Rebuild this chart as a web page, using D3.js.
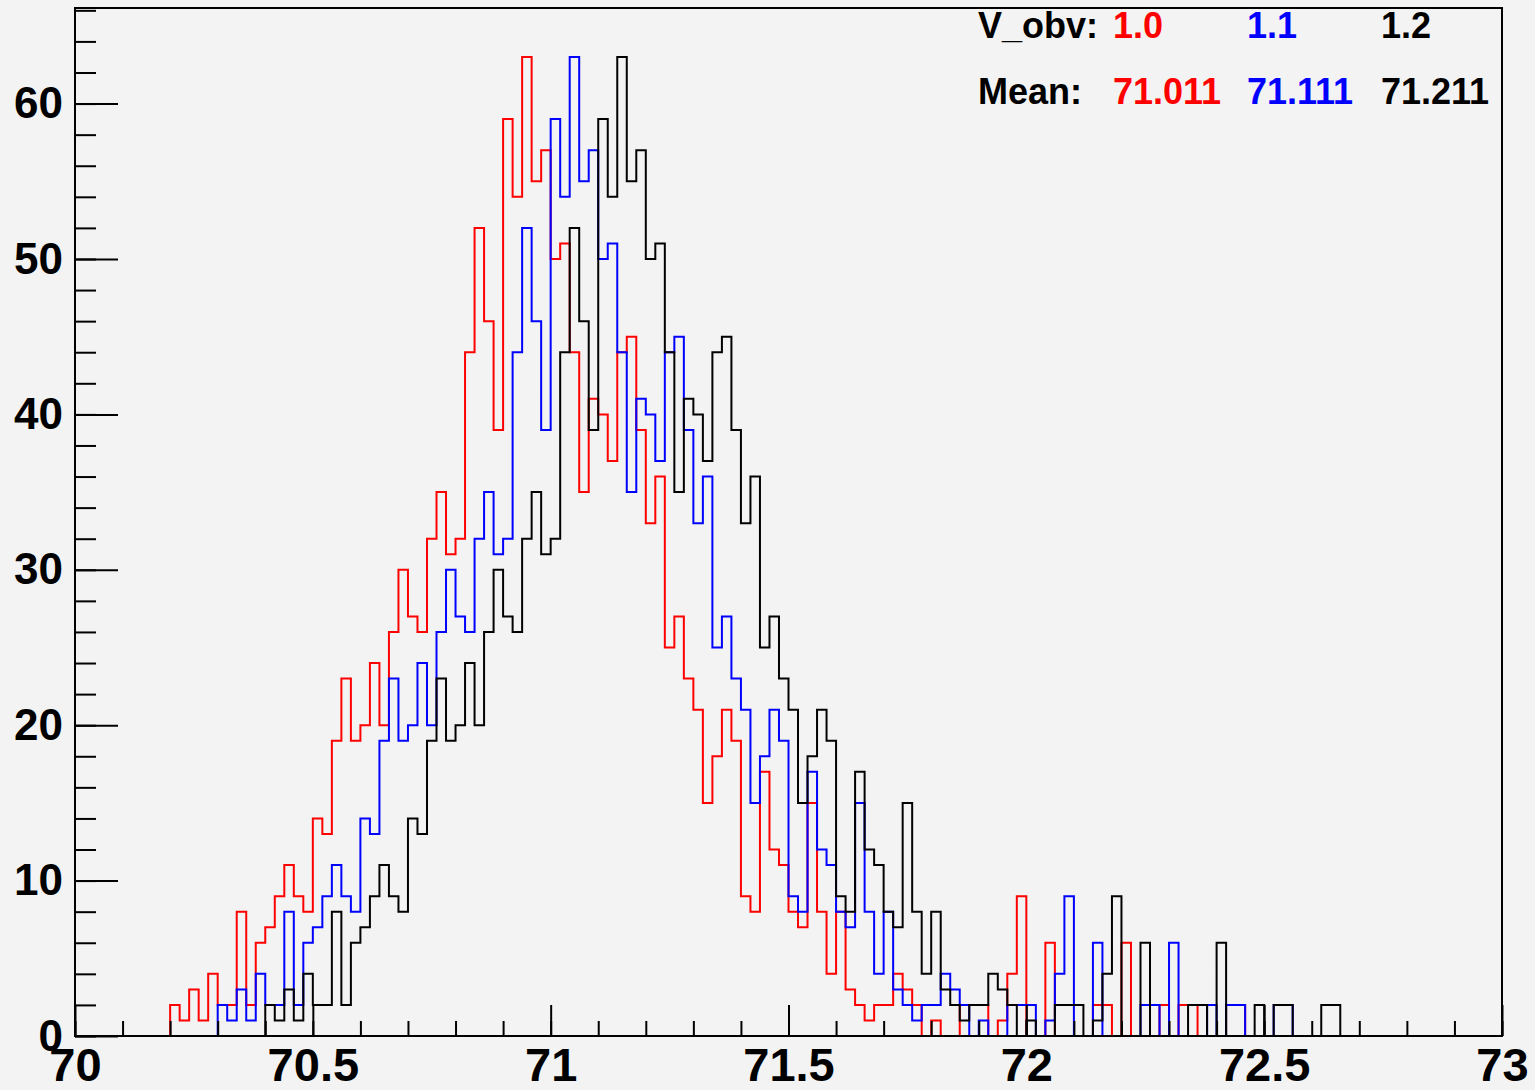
<!DOCTYPE html>
<html>
<head>
<meta charset="utf-8">
<script src="https://cdn.jsdelivr.net/npm/d3@7"></script>
<style>
  html, body { margin: 0; padding: 0; background: #f3f3f3; }
  svg { display: block; }
  text { font-family: "Liberation Sans", Arial, Helvetica, sans-serif; font-weight: bold; }
</style>
</head>
<body>
<svg id="chart" width="1535" height="1090"></svg>
<script>
// Histogram binning: 150 bins of width 0.02 between 70 and 73
const histLow = 70;
const histHigh = 73;
const binWidth = 0.02;
const yMax = 66.15;

// Bin contents, listed from the first filled bin onward
const redStart = 70.20;
const redCounts = [
  2, 1, 3, 1, 4, 2, 2, 8, 2, 6,
  7, 9, 11, 9, 8, 14, 13, 19, 23, 19,
  20, 24, 20, 26, 30, 27, 26, 32, 35, 31,
  32, 44, 52, 46, 39, 59, 54, 63, 55, 57,
  50, 51, 44, 35, 41, 40, 37, 44, 45, 39,
  33, 36, 25, 27, 23, 21, 15, 18, 21, 19,
  9, 8, 17, 12, 11, 8, 7, 15, 8, 4,
  8, 3, 2, 1, 2, 2, 4, 3, 2, 0,
  1, 0, 0, 2, 2, 2, 0, 1, 4, 9,
  0, 0, 6, 0, 0, 0, 0, 2, 2, 0,
  6, 0, 0, 0, 2, 0, 2, 2, 0, 0,
  0, 2, 2
];

const blueStart = 70.30;
const blueCounts = [
  2, 1, 3, 1, 4, 2, 2, 8, 2, 6,
  7, 9, 11, 9, 8, 14, 13, 19, 23, 19,
  20, 24, 20, 26, 30, 27, 26, 32, 35, 31,
  32, 44, 52, 46, 39, 59, 54, 63, 55, 57,
  50, 51, 44, 35, 41, 40, 37, 44, 45, 39,
  33, 36, 25, 27, 23, 21, 15, 18, 21, 19,
  9, 8, 17, 12, 11, 8, 7, 15, 8, 4,
  8, 3, 2, 1, 2, 2, 4, 3, 2, 0,
  1, 0, 0, 2, 2, 2, 0, 1, 4, 9,
  0, 0, 6, 0, 0, 0, 0, 2, 2, 0,
  6, 0, 0, 0, 2, 0, 2, 2, 0, 0,
  0, 2, 2
];

const blackStart = 70.40;
const blackCounts = [
  2, 1, 3, 1, 4, 2, 2, 8, 2, 6,
  7, 9, 11, 9, 8, 14, 13, 19, 23, 19,
  20, 24, 20, 26, 30, 27, 26, 32, 35, 31,
  32, 44, 52, 46, 39, 59, 54, 63, 55, 57,
  50, 51, 44, 35, 41, 40, 37, 44, 45, 39,
  33, 36, 25, 27, 23, 21, 15, 18, 21, 19,
  9, 8, 17, 12, 11, 8, 7, 15, 8, 4,
  8, 3, 2, 1, 2, 2, 4, 3, 2, 0,
  1, 0, 0, 2, 2, 2, 0, 1, 4, 9,
  0, 0, 6, 0, 0, 0, 0, 2, 2, 0,
  6, 0, 0, 0, 2, 0, 2, 2, 0, 0,
  0, 2, 2
];

// Axis ticks
const xMajorTicks = [70, 70.5, 71, 71.5, 72, 72.5, 73];
const xTickLabels = ["70", "70.5", "71", "71.5", "72", "72.5", "73"];
const yMajorTicks = [0, 10, 20, 30, 40, 50, 60];
const yTickLabels = ["0", "10", "20", "30", "40", "50", "60"];

// Legend text
const legendRows = ["V_obv:", "Mean:"];
const legendVobv = ["1.0", "1.1", "1.2"];
const legendMeans = ["71.011", "71.111", "71.211"];
const seriesColors = ["#ff0000", "#0000ff", "#000000"];

const series = [
  { start: redStart, counts: redCounts, color: seriesColors[0] },
  { start: blueStart, counts: blueCounts, color: seriesColors[1] },
  { start: blackStart, counts: blackCounts, color: seriesColors[2] }
];

// Frame geometry
const frame = { left: 75, right: 1502, top: 8, bottom: 1036 };
const svg = d3.select("#chart");

svg.append("rect")
  .attr("x", 0).attr("y", 0)
  .attr("width", 1535).attr("height", 1090)
  .attr("fill", "#f3f3f3");

const x = d3.scaleLinear().domain([histLow, histHigh]).range([frame.left, frame.right]);
const y = d3.scaleLinear().domain([0, yMax]).range([frame.bottom, frame.top]);

// Turn a list of bin contents into the full set of histogram bins
const nBins = Math.round((histHigh - histLow) / binWidth);
function fullBins(start, counts) {
  const offset = Math.round((start - histLow) / binWidth);
  const bins = [];
  for (let i = 0; i < nBins; i++) {
    const j = i - offset;
    const n = (j >= 0 && j < counts.length) ? counts[j] : 0;
    bins.push({ x0: histLow + i * binWidth, n: n });
  }
  bins.push({ x0: histHigh, n: bins[bins.length - 1].n });
  return bins;
}

const stepLine = d3.line()
  .x(d => x(d.x0))
  .y(d => y(d.n))
  .curve(d3.curveStepAfter);

svg.append("clipPath").attr("id", "frameClip")
  .append("rect")
  .attr("x", frame.left).attr("y", frame.top)
  .attr("width", frame.right - frame.left)
  .attr("height", frame.bottom - frame.top);

const histGroup = svg.append("g").attr("clip-path", "url(#frameClip)");
series.forEach(s => {
  histGroup.append("path")
    .datum(fullBins(s.start, s.counts))
    .attr("d", stepLine)
    .attr("fill", "none")
    .attr("stroke", s.color)
    .attr("stroke-width", 2);
});

// X axis: minor ticks every 0.1, major every 0.5
const xMinor = d3.range(0, 31).map(i => histLow + i * 0.1);
svg.append("g")
  .attr("transform", `translate(0,${frame.bottom})`)
  .call(d3.axisBottom(x).tickValues(xMinor).tickSizeInner(-15).tickSizeOuter(0).tickFormat(""))
  .call(g => g.select(".domain").remove())
  .call(g => g.selectAll("line").attr("stroke", "#000").attr("stroke-width", 2));

svg.append("g")
  .attr("transform", `translate(0,${frame.bottom})`)
  .call(d3.axisBottom(x).tickValues(xMajorTicks).tickSizeInner(-31).tickSizeOuter(0)
    .tickPadding(12).tickFormat((d, i) => xTickLabels[i]))
  .call(g => g.select(".domain").remove())
  .call(g => g.selectAll("line").attr("stroke", "#000").attr("stroke-width", 2))
  .call(g => g.selectAll("text")
    .attr("fill", "#000")
    .style("font-size", "47px")
    .style("font-family", "'Liberation Sans', Arial, sans-serif")
    .style("font-weight", "bold"));

// Y axis: minor ticks every 2, major every 10
const yMinor = d3.range(0, 34).map(i => i * 2);
svg.append("g")
  .attr("transform", `translate(${frame.left},0)`)
  .call(d3.axisLeft(y).tickValues(yMinor).tickSizeInner(-21).tickSizeOuter(0).tickFormat(""))
  .call(g => g.select(".domain").remove())
  .call(g => g.selectAll("line").attr("stroke", "#000").attr("stroke-width", 2));

svg.append("g")
  .attr("transform", `translate(${frame.left},0)`)
  .call(d3.axisLeft(y).tickValues(yMajorTicks).tickSizeInner(-43).tickSizeOuter(0)
    .tickPadding(12).tickFormat((d, i) => yTickLabels[i]))
  .call(g => g.select(".domain").remove())
  .call(g => g.selectAll("line").attr("stroke", "#000").attr("stroke-width", 2))
  .call(g => g.selectAll("text")
    .attr("fill", "#000")
    .style("font-size", "44px")
    .style("font-family", "'Liberation Sans', Arial, sans-serif")
    .style("font-weight", "bold"));

// Frame border
svg.append("rect")
  .attr("x", frame.left).attr("y", frame.top)
  .attr("width", frame.right - frame.left)
  .attr("height", frame.bottom - frame.top)
  .attr("fill", "none")
  .attr("stroke", "#000")
  .attr("stroke-width", 2);

// Legend block in the upper right corner
const legend = svg.append("g").style("font-size", "36px");
const colX = [978, 1113, 1247, 1381];
const rowY = [38, 104];
legend.append("text").attr("x", colX[0]).attr("y", rowY[0]).attr("fill", "#000").text(legendRows[0]);
legend.append("text").attr("x", colX[0]).attr("y", rowY[1]).attr("fill", "#000").text(legendRows[1]);
legendVobv.forEach((t, i) => {
  legend.append("text").attr("x", colX[i + 1]).attr("y", rowY[0]).attr("fill", seriesColors[i]).text(t);
});
legendMeans.forEach((t, i) => {
  legend.append("text").attr("x", colX[i + 1]).attr("y", rowY[1]).attr("fill", seriesColors[i]).text(t);
});
</script>
</body>
</html>
